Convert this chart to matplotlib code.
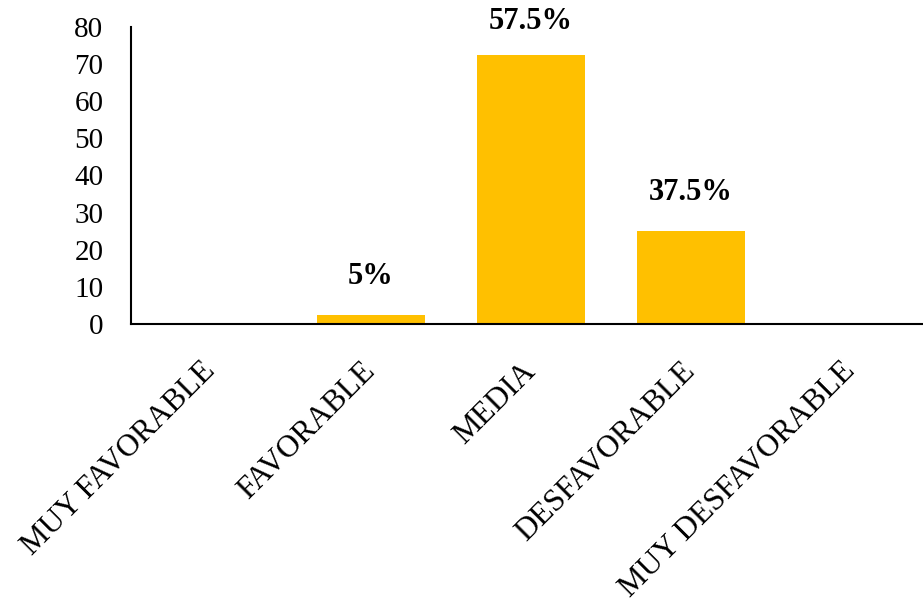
import matplotlib
matplotlib.use("Agg")
import matplotlib.pyplot as plt

categories = ["MUY FAVORABLE", "FAVORABLE", "MEDIA", "DESFAVORABLE", "MUY DESFAVORABLE"]
values = [0, 2.5, 72.5, 25, 0]
labels = ["", "5%", "57.5%", "37.5%", ""]
yticks = [0, 10, 20, 30, 40, 50, 60, 70, 80]

plt.rcParams["font.family"] = ["Liberation Serif", "DejaVu Serif"]

fig = plt.figure(figsize=(9.23, 6.03), dpi=100)
ax = fig.add_axes([0.142, 0.463, 0.8667, 0.492])

x = range(len(categories))
bars = ax.bar(x, values, width=0.67, color="#FFC000", zorder=2)

# value labels sit above each bar, kept below the top edge of the figure
for rect, val, lab in zip(bars, values, labels):
    if lab:
        ax.text(rect.get_x() + rect.get_width() / 2, min(val + 10.3, 81.6), lab,
                ha="center", va="center", fontsize=22, fontweight="bold",
                clip_on=False)

ax.set_xlim(-0.5, len(categories) - 0.5)
ax.set_ylim(0, 80)
ax.set_yticks(yticks)
ax.set_yticklabels([str(t) for t in yticks], fontsize=21)
ax.set_xticks(list(x))
ax.set_xticklabels(categories, rotation=45, ha="right", va="center",
                   rotation_mode="anchor", fontsize=22.5)
ax.tick_params(axis="y", length=0, pad=20)
ax.tick_params(axis="x", length=0, pad=31)

for side in ("top", "right"):
    ax.spines[side].set_visible(False)
ax.spines["left"].set_linewidth(1.5)
ax.spines["bottom"].set_linewidth(1.5)

fig.savefig("out.png", dpi=100)
